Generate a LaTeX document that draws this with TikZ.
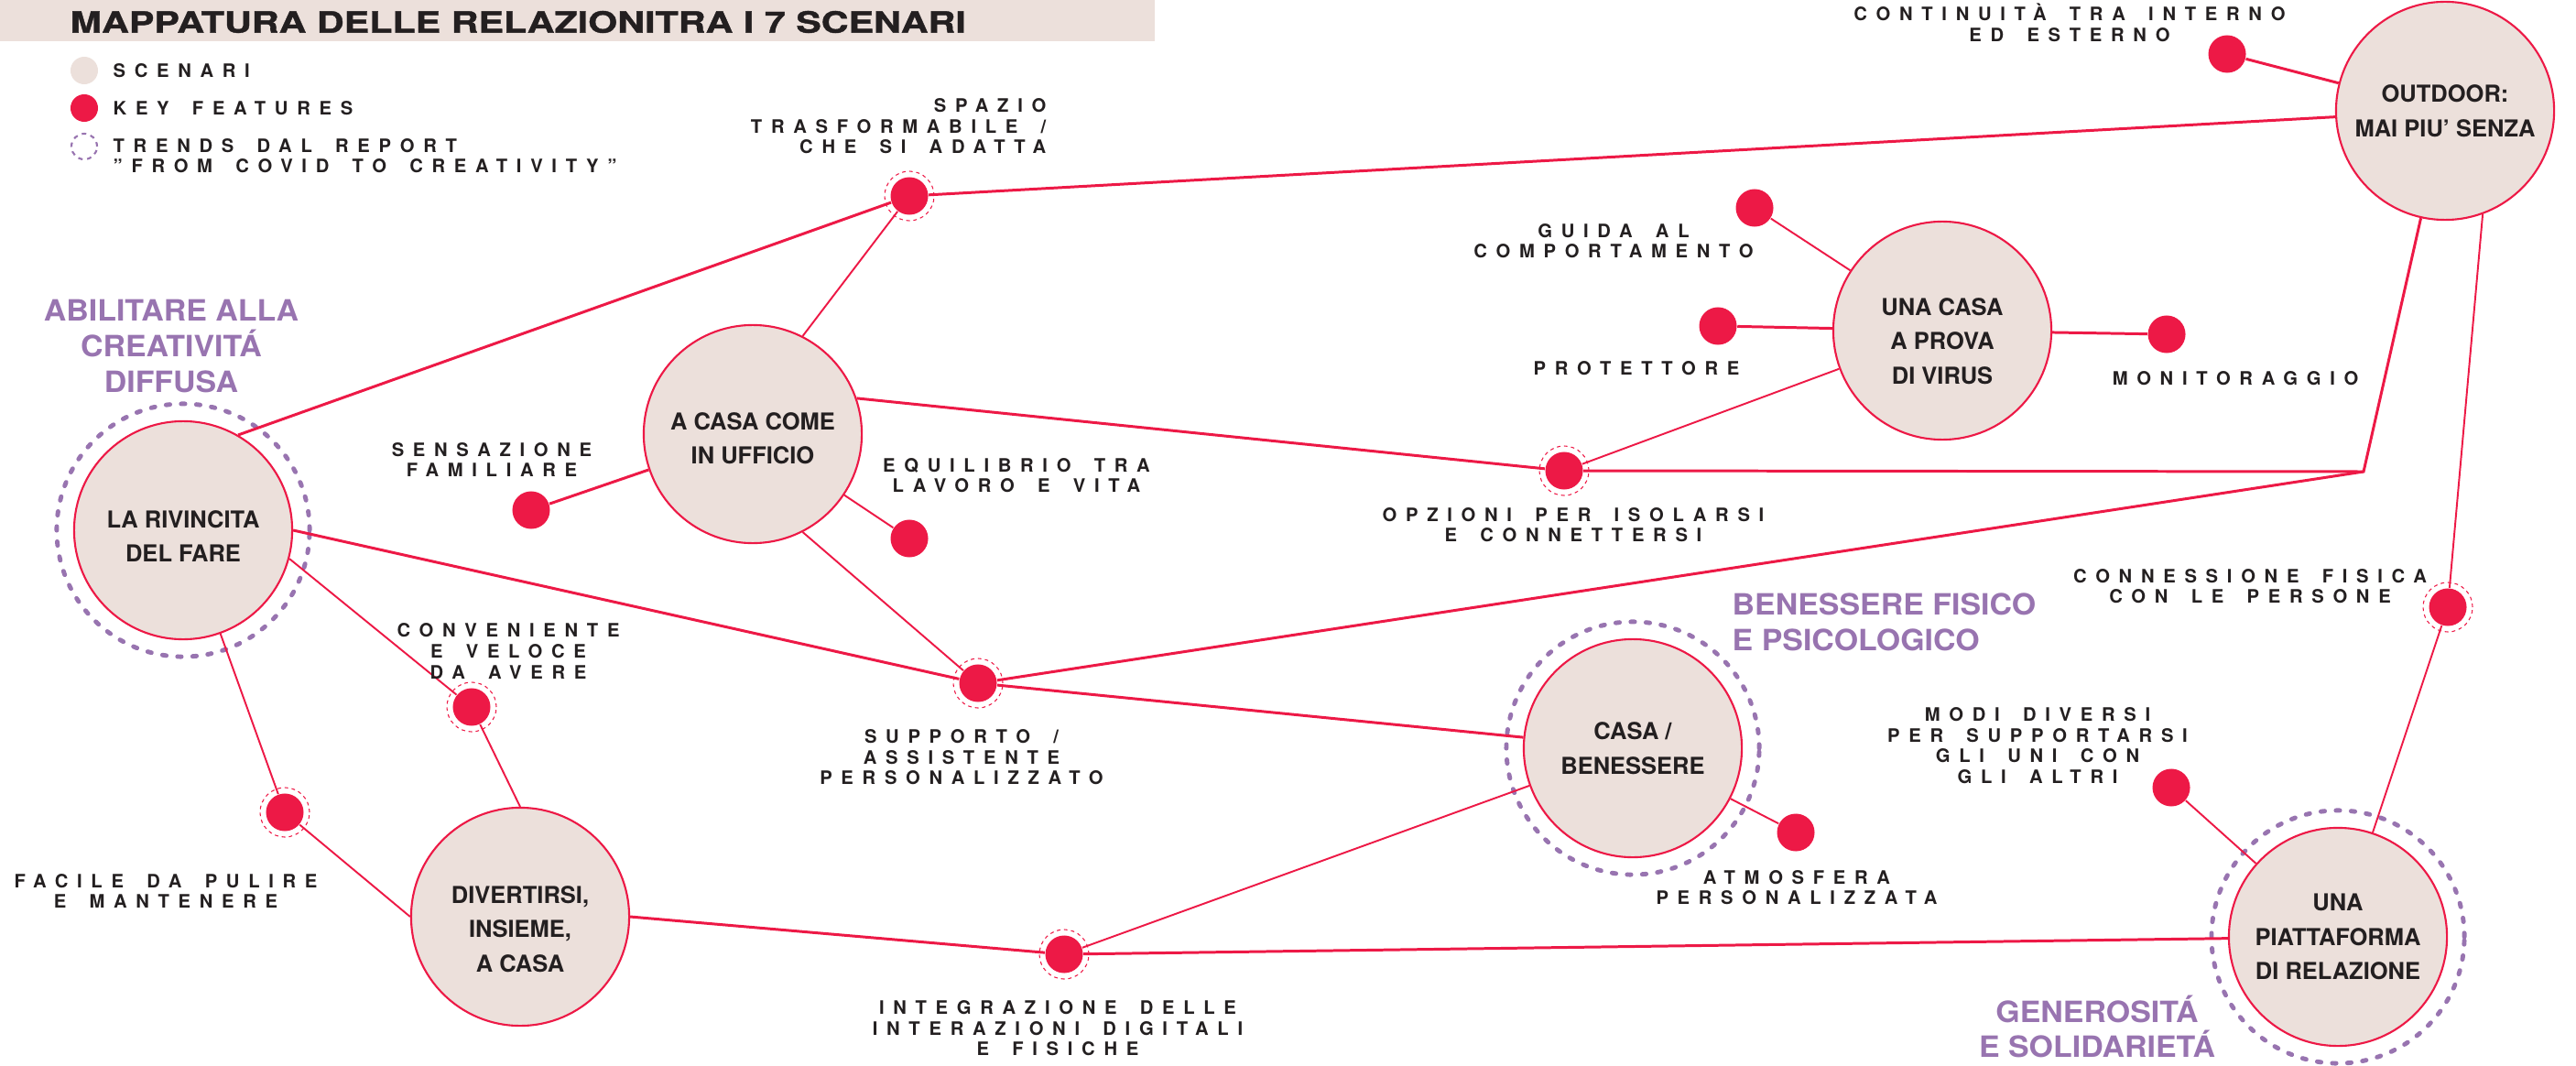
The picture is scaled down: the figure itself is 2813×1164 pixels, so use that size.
\documentclass[tikz,border=0pt]{standalone}
\usepackage{fontspec}
\setmainfont{TeX Gyre Heros}
\newfontfamily\titlefont{TeX Gyre Heros}[FakeStretch=1.29,BoldFeatures={FakeBold=1.2}]
\newfontfamily\headfont{TeX Gyre Heros}[FakeStretch=1.06]
\newfontfamily\spacedfont{TeX Gyre Heros}[LetterSpace=48,WordSpace=1.65]
\definecolor{pinkred}{RGB}{237,25,70}
\definecolor{scenfill}{RGB}{236,224,219}
\definecolor{trendpurple}{RGB}{152,116,176}
\definecolor{inkblack}{RGB}{35,31,32}
\tikzset{
	scen/.style={circle,draw=pinkred,line width=0.6pt,fill=scenfill,minimum size=2.38cm,inner sep=0pt,align=center,text=inkblack,font=\fontsize{7.25}{10.7}\selectfont\bfseries},
	feat/.style={circle,fill=pinkred,minimum size=0.41cm,inner sep=0pt},
	keydot/.style={circle,minimum size=0.3cm,inner sep=0pt},
	ring/.style={draw=pinkred,line width=0.3pt,dash pattern=on 1.1pt off 1.1pt},
	trend/.style={draw=trendpurple,line width=1.4pt,dash pattern=on 1.2pt off 3.5pt,line cap=round},
	lbl/.style={inner sep=0pt,align=center,text=inkblack,font=\spacedfont\fontsize{5.75}{6.4}\selectfont\bfseries},
	head/.style={inner sep=0pt,align=center,text=trendpurple,font=\headfont\fontsize{9.1}{11}\selectfont\bfseries},
	link/.style={draw=pinkred,line width=0.85pt},
	thinlink/.style={draw=pinkred,line width=0.55pt}
}
\begin{document}
\begin{tikzpicture}[x=0.01cm,y=-0.01cm]
	\useasboundingbox (0,0) rectangle (2813,1164);
	% title band and legend
	\fill[scenfill] (0,0) rectangle (1261,45);
	\node[anchor=west,inner sep=0pt,text=inkblack,font=\titlefont\fontsize{9.1}{10}\selectfont\bfseries] (title) at (76,24) {MAPPATURA DELLE RELAZIONITRA I 7 SCENARI};
	\node[keydot,fill=scenfill] (keyscen) at (92,77) {};
	\node[keydot,fill=pinkred] (keyfeat) at (92,118) {};
	\node[keydot,minimum size=0.28cm,draw=trendpurple,line width=0.6pt,dash pattern=on 1.4pt off 1.4pt] (keytrend) at (92,160) {};
	\node[lbl,anchor=west] (keyscentxt) at (123,77) {SCENARI};
	\node[lbl,anchor=west] (keyfeattxt) at (123,118) {KEY FEATURES};
	\node[lbl,anchor=west,align=left] (keytrendtxt) at (123,170) {TRENDS DAL REPORT\\”FROM COVID TO CREATIVITY”};
	% scenari (the rules push the text a little below the centre)
	\node[scen] (rivincita) at (200,579) {\rule{0pt}{0.32cm}LA RIVINCITA\\DEL FARE};
	\node[scen] (ufficio) at (822,474) {\rule{0pt}{0.28cm}A CASA COME\\IN UFFICIO};
	\node[scen] (virus) at (2121,361) {\rule{0pt}{0.42cm}UNA CASA\\A PROVA\\DI VIRUS};
	\node[scen] (outdoor) at (2670,121) {OUTDOOR:\\MAI PIU' SENZA};
	\node[scen] (benessere) at (1783,817) {CASA /\\BENESSERE};
	\node[scen] (divertirsi) at (568,1001) {\rule{0pt}{0.46cm}DIVERTIRSI,\\INSIEME,\\A CASA};
	\node[scen] (piattaforma) at (2553,1023) {UNA\\PIATTAFORMA\\DI RELAZIONE};
	\draw[trend] (rivincita) circle (1.38cm);
	\draw[trend] (benessere) circle (1.38cm);
	\draw[trend] (piattaforma) circle (1.38cm);
	\node[head] (abilitare) at (187,378) {ABILITARE ALLA\\CREATIVITÁ\\DIFFUSA};
	\node[head,anchor=west,align=left] (fisico) at (1891,679) {BENESSERE FISICO\\E PSICOLOGICO};
	\node[head] (generosita) at (2290,1121) {GENEROSITÁ\\E SOLIDARIETÁ};
	% key features
	\node[feat] (spazio) at (993,214) {};
	\node[feat] (continuita) at (2432,59) {};
	\node[feat] (guida) at (1916,227) {};
	\node[feat] (protettore) at (1876,356) {};
	\node[feat] (monitoraggio) at (2366,365) {};
	\node[feat] (sensazione) at (580,557) {};
	\node[feat] (equilibrio) at (993,588) {};
	\node[feat] (opzioni) at (1708,514) {};
	\node[feat] (supporto) at (1068,746) {};
	\node[feat] (conveniente) at (515,772) {};
	\node[feat] (facile) at (311,887) {};
	\node[feat] (integrazione) at (1162,1042) {};
	\node[feat] (atmosfera) at (1961,909) {};
	\node[feat] (connessione) at (2673,663) {};
	\node[feat] (modi) at (2371,860) {};
	\foreach \n in {spazio,opzioni,supporto,conveniente,facile,integrazione,connessione}
		\draw[ring] (\n) circle (0.27cm);
	\coordinate (bend) at (2581,515);
	% links
	\draw[link] (rivincita.60) -- (spazio);
	\draw[link] (spazio) -- (outdoor);
	\draw[thinlink] (ufficio.63) -- (spazio);
	\draw[link] (ufficio.19) -- (opzioni);
	\draw[link] (ufficio) -- (sensazione);
	\draw[thinlink] (ufficio) -- (equilibrio);
	\draw[thinlink] (ufficio.-63) -- (supporto);
	\draw[link] (rivincita.east) -- (supporto);
	\draw[thinlink] (rivincita.-15) -- (conveniente) -- (divertirsi.north);
	\draw[thinlink] (rivincita) -- (facile) -- (divertirsi.west);
	\draw[link] (divertirsi.east) -- (integrazione) -- (piattaforma);
	\draw[thinlink] (integrazione) -- (benessere);
	\draw[link] (supporto) -- (benessere);
	\draw[link] (supporto) -- (bend) -- (outdoor);
	\draw[link] (opzioni) -- (bend);
	\draw[thinlink] (opzioni) -- (virus);
	\draw[thinlink] (virus) -- (guida);
	\draw[link] (virus) -- (protettore);
	\draw[link] (virus) -- (monitoraggio);
	\draw[link] (outdoor) -- (continuita);
	\draw[thinlink] (outdoor.-70) -- (connessione) -- (piattaforma);
	\draw[thinlink] (piattaforma) -- (modi);
	\draw[thinlink] (benessere) -- (atmosfera);
	% labels
	\node[lbl,anchor=east,align=right] (spaziotxt) at (1143,138) {SPAZIO\\TRASFORMABILE /\\CHE SI ADATTA};
	\node[lbl] (continuitatxt) at (2260,25) {CONTINUITÀ TRA INTERNO\\ED ESTERNO};
	\node[lbl] (guidatxt) at (1762,263) {GUIDA AL\\COMPORTAMENTO};
	\node[lbl] (protettoretxt) at (1787,402) {PROTETTORE};
	\node[lbl] (monitoraggiotxt) at (2441,413) {MONITORAGGIO};
	\node[lbl] (sensazionetxt) at (537,502) {SENSAZIONE\\FAMILIARE};
	\node[lbl] (equilibriotxt) at (1110,519) {EQUILIBRIO TRA\\LAVORO E VITA};
	\node[lbl] (opzionitxt) at (1718,573) {OPZIONI PER ISOLARSI\\E CONNETTERSI};
	\node[lbl] (convenientetxt) at (555,711) {CONVENIENTE\\E VELOCE\\DA AVERE};
	\node[lbl] (supportotxt) at (1050,827) {SUPPORTO /\\ASSISTENTE\\PERSONALIZZATO};
	\node[lbl] (faciletxt) at (181,973) {FACILE DA PULIRE\\E MANTENERE};
	\node[lbl] (integrazionetxt) at (1155,1123) {INTEGRAZIONE DELLE\\INTERAZIONI DIGITALI\\E FISICHE};
	\node[lbl] (atmosferatxt) at (1962,969) {ATMOSFERA\\PERSONALIZZATA};
	\node[lbl] (connessionetxt) at (2457,640) {CONNESSIONE FISICA\\CON LE PERSONE};
	\node[lbl] (moditxt) at (2225,814) {MODI DIVERSI\\PER SUPPORTARSI\\GLI UNI CON\\GLI ALTRI};
\end{tikzpicture}
\end{document}
